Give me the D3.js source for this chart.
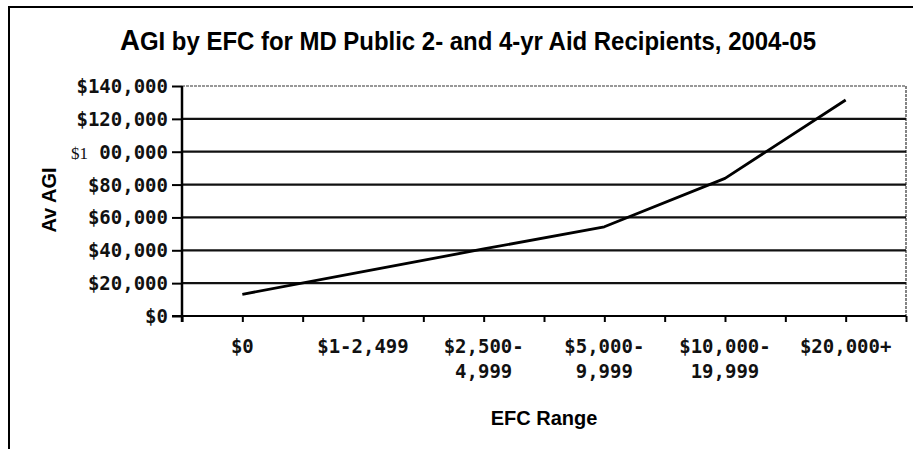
<!doctype html>
<html>
  <head>
    <script src="https://cdn.jsdelivr.net/npm/d3@7/dist/d3.min.js"></script>
    <style>
      body { margin: 0; background: #fff; }
      .sans { font-family: "Liberation Sans", Arial, sans-serif; font-weight: bold; fill: #000; }
      .mono { font-family: "DejaVu Sans Mono", monospace; font-weight: bold; font-size: 19px; fill: #111; }
    </style>
  </head>
  <body>
    <svg id="chart" width="913" height="449"></svg>
    <script>
      // EFC ranges (label lines) and average AGI per range
      var efcRanges = [["$0"], ["$1-2,499"], ["$2,500-", "4,999"], ["$5,000-", "9,999"], ["$10,000-", "19,999"], ["$20,000+"]];
      var avgAgi = [13200, 27000, 40800, 54300, 83800, 131500];
      var yTicks = [0, 20000, 40000, 60000, 80000, 100000, 120000, 140000];
      var yTickLabels = ["$0", "$20,000", "$40,000", "$60,000", "$80,000", "$1 00,000", "$120,000", "$140,000"];

      var svg = d3.select("#chart");
      var plotL = 182, plotR = 906, plotT = 86, plotB = 316;

      var x = d3.scaleLinear().domain([-0.5, efcRanges.length - 0.5]).range([plotL, plotR]);
      var y = d3.scaleLinear().domain([0, 140000]).range([plotB, plotT]);

      // outer frame (cut off at right / bottom like the scan)
      svg.append("rect")
        .attr("x", 9).attr("y", 7).attr("width", 960).attr("height", 500)
        .attr("fill", "none").attr("stroke", "#000").attr("stroke-width", 2);

      // title
      var title = svg.append("text").attr("class", "sans")
        .attr("x", 120).attr("y", 50)
        .attr("textLength", 696).attr("lengthAdjust", "spacingAndGlyphs")
        .style("font-size", "26px");
      title.append("tspan").style("font-size", "30px").text("A");
      title.append("tspan").text("GI by EFC for MD Public 2- and 4-yr Aid Recipients, 2004-05");

      // plot border (top / right)
      svg.append("path")
        .attr("d", "M" + plotL + "," + plotT + "H" + plotR + "V" + plotB)
        .attr("fill", "none").attr("stroke", "#333").attr("stroke-width", 1.2)
        .attr("stroke-dasharray", "3,1");

      // gridlines
      svg.append("g").selectAll("line")
        .data(yTicks.filter(d => d > 0 && d < 140000))
        .enter().append("line")
          .attr("x1", plotL).attr("x2", plotR)
          .attr("y1", d => y(d)).attr("y2", d => y(d))
          .attr("stroke", "#111").attr("stroke-width", 2.2);

      // y axis
      var yAxis = svg.append("g")
        .attr("transform", "translate(" + plotL + ",0)")
        .call(d3.axisLeft(y).tickValues(yTicks).tickSize(10).tickFormat(""));
      yAxis.select(".domain").attr("stroke", "#000").attr("stroke-width", 2.5)
        .attr("d", "M0," + plotT + "V" + (plotB + 6));
      yAxis.selectAll(".tick line").attr("stroke", "#000").attr("stroke-width", 2);

      svg.append("g").selectAll("text")
        .data(yTicks)
        .enter().append("text")
          .attr("class", "mono")
          .attr("x", 168)
          .attr("y", d => y(d) + 7)
          .attr("text-anchor", "end")
          .each(function(d, i) {
            var lab = yTickLabels[i];
            var t = d3.select(this);
            if (lab.indexOf(" ") > 0) {
              var parts = lab.split(" ");
              t.append("tspan")
                .style("font-family", "'Liberation Serif', serif")
                .style("font-weight", "normal")
                .style("font-size", "17px")
                .text(parts[0]);
              t.append("tspan").text(" " + parts[1]);
            } else {
              t.text(lab);
            }
          });

      // x axis with ticks on and between categories
      var xTickVals = d3.range(0, efcRanges.length * 2 + 1).map(i => i / 2 - 0.5);
      var xAxis = svg.append("g")
        .attr("transform", "translate(0," + plotB + ")")
        .call(d3.axisBottom(x).tickValues(xTickVals).tickSize(6).tickFormat(""));
      xAxis.select(".domain").attr("stroke", "#000").attr("stroke-width", 2.2)
        .attr("d", "M" + (plotL - 10) + ",0H" + plotR);
      xAxis.selectAll(".tick line").attr("stroke", "#000").attr("stroke-width", 2);

      svg.append("g").selectAll("text")
        .data(efcRanges)
        .enter().append("text")
          .attr("class", "mono")
          .attr("text-anchor", "middle")
          .attr("x", (d, i) => x(i))
          .attr("y", 353)
          .each(function(d) {
            var t = d3.select(this);
            d.forEach(function(line, j) {
              t.append("tspan").attr("x", t.attr("x")).attr("dy", j === 0 ? 0 : 25).text(line);
            });
          });

      // axis titles
      svg.append("text").attr("class", "sans")
        .attr("x", (plotL + plotR) / 2).attr("y", 425)
        .attr("text-anchor", "middle")
        .style("font-size", "20px")
        .text("EFC Range");

      svg.append("text").attr("class", "sans")
        .attr("transform", "translate(56,200) rotate(-90)")
        .attr("text-anchor", "middle")
        .style("font-size", "20px")
        .text("Av AGI");

      // the line
      var agiLine = d3.line()
        .x((d, i) => x(i))
        .y(d => y(d));

      svg.append("path")
        .datum(avgAgi)
        .attr("d", agiLine)
        .attr("fill", "none")
        .attr("stroke", "#000")
        .attr("stroke-width", 2.8)
        .attr("stroke-linejoin", "round");
    </script>
  </body>
</html>
